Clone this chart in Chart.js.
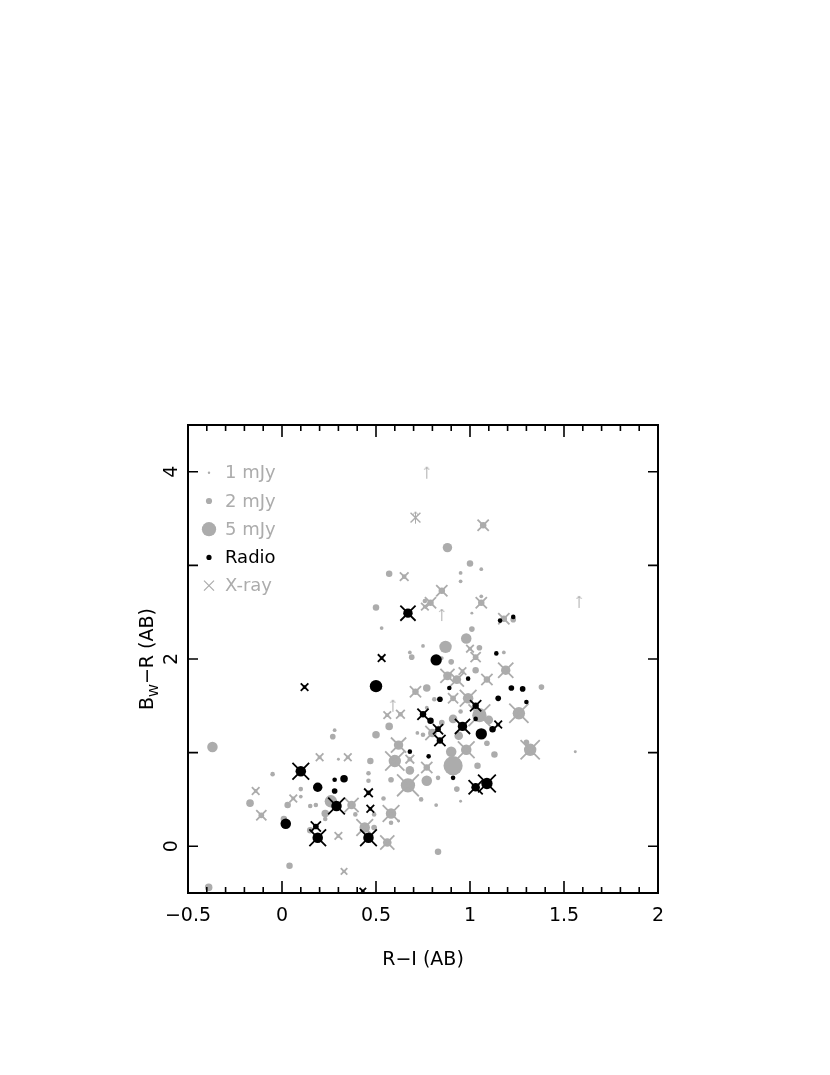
<!DOCTYPE html>
<html>
<head>
<meta charset="utf-8">
<script src="https://cdn.jsdelivr.net/npm/chart.js@4/dist/chart.umd.min.js"></script>
<style>
  html, body { margin: 0; padding: 0; background: #fff; }
  canvas { display: block; }
</style>
</head>
<body>
<canvas id="colourChart" width="830" height="1075"></canvas>
<script>
// grey sources: R-I, Bw-R, radio flux (mJy), X-ray detected (1/0)
const greyRI = [1.07, 0.88, 1.00, 1.06, 0.95, 0.95, 0.65, 0.57, 0.50, 0.53, 0.85, 0.76, 0.79, 0.76, 1.06, 1.06, 1.01, 1.18, 1.23, 1.01,
  0.87, 0.98, 0.75, 0.68, 0.69, 0.90, 0.85, 1.00, 1.03, 1.05, 1.18, 1.19, 1.03, 0.88, 0.93, 0.96, 1.09, 0.77, 0.71, 1.38,
  0.81, 0.91, 0.99, 1.05, 0.95, 1.26, 0.91, 0.85, 1.10, 0.80, 0.94, 0.56, 0.63, 0.77, 0.57, 0.75, 0.72, 0.50, 0.28, 0.27,
  0.90, 0.62, 0.60, 0.68, 0.47, 0.77, 0.68, 0.91, 1.04, 0.98, 1.09, 1.13, 1.32, 1.30, 1.56, 0.46, 0.46, 0.58, 0.67, 0.77,
  0.83, 0.93, 0.54, 0.74, 0.95, 0.82, 0.62, 0.83, 0.58, 0.58, 0.44, 0.49, 0.56, 0.39, 0.49, 0.37, 0.26, 0.15, 0.18, 0.23,
  0.23, 0.15, 0.01, 0.03, 0.10, 0.10, 0.06, -0.17, -0.14, -0.11, -0.05, -0.37, -0.39, 0.04, 0.33, 0.30, 0.20, 0.30, 0.35];
const greyBR = [3.43, 3.19, 3.02, 2.96, 2.92, 2.83, 2.88, 2.91, 2.55, 2.33, 2.73, 2.62, 2.60, 2.56, 2.60, 2.67, 2.49, 2.43, 2.42, 2.32,
  2.13, 2.22, 2.14, 2.07, 2.02, 1.97, 2.01, 2.11, 2.02, 2.12, 2.07, 1.88, 1.88, 1.82, 1.78, 1.87, 1.78, 1.69, 1.65, 1.70,
  1.57, 1.58, 1.58, 1.40, 1.44, 1.42, 1.36, 1.32, 1.35, 1.21, 1.18, 1.40, 1.41, 1.48, 1.28, 1.19, 1.21, 1.19, 1.24, 1.17,
  1.01, 1.08, 0.91, 0.93, 0.91, 0.84, 0.81, 0.86, 0.86, 1.03, 1.10, 0.98, 1.03, 1.11, 1.01, 0.78, 0.70, 0.71, 0.65, 0.70,
  0.73, 0.61, 0.51, 0.50, 0.48, 0.44, 0.27, -0.06, 0.35, 0.25, 0.20, 0.20, 0.04, 0.34, 0.34, 0.44, 0.48, 0.43, 0.44, 0.35,
  0.29, 0.17, 0.29, 0.44, 0.61, 0.53, 0.51, 0.46, 0.59, 0.33, 0.77, 1.06, -0.44, -0.21, -0.27, 0.11, 0.95, 0.93, 0.95];
const greyFlux = [2.1, 3.2, 2.1, 1.1, 1.1, 1.1, 1.4, 2.1, 2.1, 1.1, 2.1, 1.4, 2.1, 1.1, 2.1, 1.1, 0.8, 2.1, 1.8, 1.8,
  4.3, 3.6, 1.1, 1.1, 1.8, 1.8, 1.1, 1.1, 1.8, 1.8, 1.1, 3.2, 2.1, 2.9, 2.9, 1.1, 2.1, 2.5, 2.1, 1.8,
  1.4, 1.8, 3.6, 5.0, 1.4, 4.3, 2.9, 1.8, 2.9, 2.9, 2.9, 1.1, 1.4, 1.1, 2.5, 1.4, 1.1, 2.5, 1.1, 1.8,
  3.6, 3.2, 4.3, 1.4, 2.1, 2.1, 2.9, 6.8, 2.1, 3.6, 1.8, 2.1, 4.3, 1.8, 0.8, 1.4, 1.4, 1.8, 5.0, 3.6,
  1.4, 1.8, 1.4, 1.4, 0.8, 1.1, 0.8, 2.1, 3.6, 1.4, 3.6, 1.8, 2.9, 1.4, 1.4, 2.9, 4.3, 1.4, 1.4, 2.5,
  1.4, 2.1, 2.1, 2.1, 1.4, 1.1, 1.1, 2.5, 1.1, 1.8, 1.4, 3.6, 2.5, 2.1, 0.8, 1.1, 1.1, 0.8, 1.1];
const greyXray = [1, 0, 0, 0, 0, 0, 1, 0, 0, 0, 1, 0, 1, 1, 1, 0, 0, 1, 0, 0,
  0, 0, 0, 0, 0, 0, 0, 1, 1, 0, 0, 1, 0, 1, 1, 1, 1, 0, 1, 0,
  0, 1, 1, 1, 0, 1, 0, 0, 0, 1, 0, 1, 1, 0, 0, 0, 0, 0, 0, 0,
  0, 1, 1, 1, 0, 1, 0, 0, 0, 1, 0, 0, 1, 0, 0, 0, 0, 0, 1, 0,
  0, 0, 0, 0, 0, 0, 0, 0, 1, 0, 1, 0, 1, 0, 0, 1, 0, 0, 0, 0,
  0, 0, 0, 0, 0, 0, 1, 0, 1, 1, 0, 0, 0, 0, 1, 1, 1, 0, 1];

// black radio sources
const radioRI = [0.67, 0.53, 0.12, 0.50, 0.82, 1.16, 1.23, 1.14, 0.99, 1.22, 1.28, 1.15, 1.30, 0.89, 0.84, 1.03, 1.03, 0.96, 1.15, 1.12,
  1.06, 0.75, 0.79, 0.83, 0.84, 0.68, 0.78, 0.91, 1.03, 1.09, 0.33, 0.28, 0.46, 0.10, 0.19, 0.28, 0.29, 0.02, 0.18, 0.19,
  0.46, 0.47, 0.43];
const radioBR = [2.49, 2.01, 1.70, 1.71, 1.99, 2.41, 2.45, 2.06, 1.79, 1.69, 1.68, 1.58, 1.54, 1.69, 1.57, 1.50, 1.36, 1.28, 1.30, 1.25,
  1.20, 1.41, 1.34, 1.25, 1.13, 1.01, 0.96, 0.73, 0.63, 0.67, 0.72, 0.71, 0.57, 0.80, 0.63, 0.59, 0.43, 0.24, 0.21, 0.09,
  0.09, 0.40, -0.48];
const radioFlux = [3.2, 1.1, 1.1, 4.3, 3.9, 1.4, 1.4, 1.4, 1.4, 1.8, 1.8, 1.8, 1.4, 1.4, 1.8, 2.1, 1.4, 3.2, 1.1, 2.1,
  3.9, 2.1, 2.1, 1.8, 2.1, 1.4, 1.4, 1.4, 2.9, 3.9, 2.5, 1.4, 1.4, 3.6, 3.2, 1.8, 3.6, 3.6, 1.8, 3.6,
  3.6, 1.1, 0.8];
const radioXray = [1, 1, 1, 0, 0, 0, 0, 0, 0, 0, 0, 0, 0, 0, 0, 1, 0, 1, 1, 0,
  0, 1, 0, 1, 1, 0, 0, 0, 1, 1, 0, 0, 1, 1, 0, 0, 1, 0, 1, 1,
  1, 1, 1];

// lower limits on Bw-R (arrows)
const limitRI = [0.77, 0.71, 0.85, 1.58, 0.59];
const limitBR = [3.99, 3.51, 2.47, 2.61, 1.50];
const limitXray = [0, 1, 0, 0, 0];

const xTicks = [-0.5, 0, 0.5, 1, 1.5, 2];
const xTickLabels = ['\u22120.5', '0', '0.5', '1', '1.5', '2'];
const yTicks = [0, 2, 4];
const yTickLabels = ['0', '2', '4'];
const legendLabels = ['1 mJy', '2 mJy', '5 mJy', 'Radio', 'X-ray'];
const legendFlux = [1, 2, 5];

const GREY = '#acacac';
const FONT = '"DejaVu Sans", "Liberation Sans", sans-serif';

const dotRadius = f => 1.35 * f + 0.4;
const crossSize = f => 1.9 * dotRadius(f) + 1.8;

const points = (xs, ys) => xs.map((v, i) => ({ x: v, y: ys[i] }));
const pick = (arr, flags) => arr.filter((_, i) => flags[i]);

function arrowImage() {
  const c = document.createElement('canvas');
  c.width = 7; c.height = 14;
  const g = c.getContext('2d');
  g.strokeStyle = GREY;
  g.lineWidth = 1;
  g.beginPath();
  g.moveTo(3.5, 13); g.lineTo(3.5, 1);
  g.moveTo(1, 4); g.lineTo(3.5, 1); g.lineTo(6, 4);
  g.stroke();
  return c;
}

const frame = {
  id: 'frame',
  afterDraw(chart) {
    const { ctx, chartArea: a, scales: { x, y } } = chart;
    ctx.save();
    ctx.strokeStyle = '#000';
    ctx.lineWidth = 2;
    ctx.strokeRect(a.left, a.top, a.right - a.left, a.bottom - a.top);

    ctx.lineWidth = 1.6;
    ctx.beginPath();
    for (let i = -5; i <= 20; i++) {
      const px = x.getPixelForValue(i / 10);
      const len = i % 5 === 0 ? 12 : 6;
      ctx.moveTo(px, a.bottom); ctx.lineTo(px, a.bottom - len);
      ctx.moveTo(px, a.top); ctx.lineTo(px, a.top + len);
    }
    for (let v = 0; v <= 4; v++) {
      const py = y.getPixelForValue(v);
      ctx.moveTo(a.left, py); ctx.lineTo(a.left + 10, py);
      ctx.moveTo(a.right, py); ctx.lineTo(a.right - 10, py);
    }
    ctx.stroke();

    // tick labels
    ctx.fillStyle = '#000';
    ctx.font = '19px ' + FONT;
    ctx.textAlign = 'center';
    ctx.textBaseline = 'alphabetic';
    xTicks.forEach((v, i) => ctx.fillText(xTickLabels[i], x.getPixelForValue(v), a.bottom + 28));
    yTicks.forEach((v, i) => {
      ctx.save();
      ctx.translate(a.left - 11, y.getPixelForValue(v));
      ctx.rotate(-Math.PI / 2);
      ctx.fillText(yTickLabels[i], 0, 0);
      ctx.restore();
    });

    // axis titles
    ctx.fillText('R\u2212I (AB)', (a.left + a.right) / 2, a.bottom + 72);
    ctx.save();
    ctx.translate(a.left - 35, (a.top + a.bottom) / 2);
    ctx.rotate(-Math.PI / 2);
    const p1 = 'B', sub = 'W', p2 = '\u2212R (AB)';
    ctx.font = '19px ' + FONT;
    const w1 = ctx.measureText(p1).width, w3 = ctx.measureText(p2).width;
    ctx.font = '13px ' + FONT;
    const w2 = ctx.measureText(sub).width;
    let sx = -(w1 + w2 + w3) / 2;
    ctx.textAlign = 'left';
    ctx.font = '19px ' + FONT;
    ctx.fillText(p1, sx, 0); sx += w1;
    ctx.font = '13px ' + FONT;
    ctx.fillText(sub, sx, 5); sx += w2;
    ctx.font = '19px ' + FONT;
    ctx.fillText(p2, sx, 0);
    ctx.restore();

    // legend
    const lx = a.left + 21, tx = a.left + 37;
    ctx.font = '18px ' + FONT;
    ctx.textAlign = 'left';
    ctx.textBaseline = 'middle';
    legendLabels.forEach((lab, i) => {
      const ly = y.getPixelForValue(4) + 1 + i * 28.2;
      if (i < 3) {
        ctx.fillStyle = GREY;
        ctx.beginPath();
        ctx.arc(lx, ly, i === 0 ? 1.2 : dotRadius(legendFlux[i]), 0, Math.PI * 2);
        ctx.fill();
      } else if (i === 3) {
        ctx.fillStyle = '#000';
        ctx.beginPath();
        ctx.arc(lx, ly, 2.6, 0, Math.PI * 2);
        ctx.fill();
      } else {
        ctx.strokeStyle = GREY;
        ctx.lineWidth = 1.2;
        ctx.beginPath();
        ctx.moveTo(lx - 5, ly - 5); ctx.lineTo(lx + 5, ly + 5);
        ctx.moveTo(lx + 5, ly - 5); ctx.lineTo(lx - 5, ly + 5);
        ctx.stroke();
      }
      ctx.fillStyle = i === 3 ? '#000' : GREY;
      ctx.fillText(lab, tx, ly + 1);
    });
    ctx.restore();
  }
};

new Chart(document.getElementById('colourChart'), {
  type: 'scatter',
  data: {
    datasets: [
      {
        label: 'grey',
        data: points(greyRI, greyBR),
        pointRadius: greyFlux.map(dotRadius),
        backgroundColor: GREY,
        borderWidth: 0,
        order: 6
      },
      {
        label: 'grey X-ray',
        data: pick(points(greyRI, greyBR), greyXray),
        pointStyle: 'crossRot',
        pointRadius: pick(greyFlux, greyXray).map(crossSize),
        borderColor: GREY,
        borderWidth: 1.8,
        order: 5
      },
      {
        label: 'Radio',
        data: points(radioRI, radioBR),
        pointRadius: radioFlux.map(dotRadius),
        backgroundColor: '#000',
        borderWidth: 0,
        order: 4
      },
      {
        label: 'Radio X-ray',
        data: pick(points(radioRI, radioBR), radioXray),
        pointStyle: 'crossRot',
        pointRadius: pick(radioFlux, radioXray).map(crossSize),
        borderColor: '#000',
        borderWidth: 1.8,
        order: 3
      },
      {
        label: 'limits',
        data: points(limitRI, limitBR),
        pointStyle: arrowImage(),
        pointRadius: 5,
        order: 2
      },
      {
        label: 'limits X-ray',
        data: pick(points(limitRI, limitBR), limitXray),
        pointStyle: 'crossRot',
        pointRadius: 7,
        borderColor: GREY,
        borderWidth: 1.4,
        order: 1
      }
    ]
  },
  options: {
    responsive: false,
    animation: false,
    events: [],
    layout: { padding: { left: 188, right: 172, top: 425, bottom: 182 } },
    scales: {
      x: { type: 'linear', min: -0.5, max: 2, display: false },
      y: { type: 'linear', min: -0.5, max: 4.5, display: false }
    },
    plugins: { legend: { display: false }, tooltip: { enabled: false } }
  },
  plugins: [frame]
});
</script>
</body>
</html>
